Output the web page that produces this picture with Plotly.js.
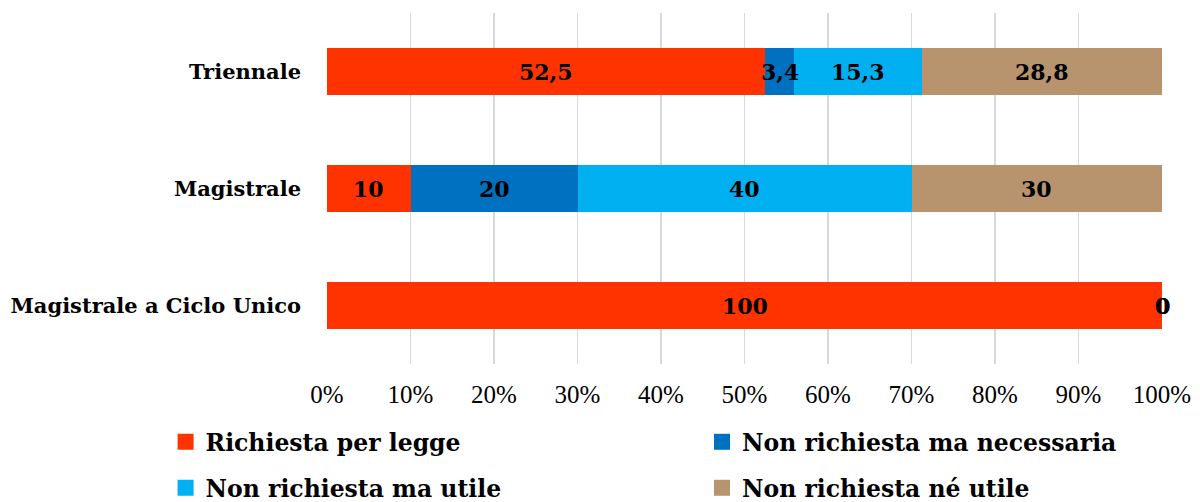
<!DOCTYPE html>
<html>
<head>
<meta charset="utf-8">
<script src="https://cdn.plot.ly/plotly-3.0.1.min.js"></script>
<style>html,body{margin:0;padding:0;background:#fff;}#chart{width:1200px;height:502px;}</style>
</head>
<body>
<div id="chart"></div>
<script>
const categories = ["Triennale", "Magistrale", "Magistrale a Ciclo Unico"];
const seriesNames = ["Richiesta per legge", "Non richiesta ma necessaria", "Non richiesta ma utile", "Non richiesta né utile"];
const richiestaPerLegge = [52.5, 10, 100];
const nonRichiestaNecessaria = [3.4, 20, 0];
const nonRichiestaUtile = [15.3, 40, 0];
const nonRichiestaNeUtile = [28.8, 30, 0];
const tickValues = [0, 10, 20, 30, 40, 50, 60, 70, 80, 90, 100];
const tickLabels = ["0%", "10%", "20%", "30%", "40%", "50%", "60%", "70%", "80%", "90%", "100%"];

const seriesValues = [richiestaPerLegge, nonRichiestaNecessaria, nonRichiestaUtile, nonRichiestaNeUtile];
const colors = ["#FF3300", "#0070C0", "#00B0F0", "#B7946E"];
const legendIds = ["legend", "legend2", "legend3", "legend4"];

const fmt = v => String(v).replace(".", ",");

const barTraces = seriesValues.map((vals, i) => ({
  type: "bar",
  orientation: "h",
  name: seriesNames[i],
  x: vals,
  y: categories,
  marker: {color: colors[i], line: {width: 0}},
  showlegend: false,
  hoverinfo: "none"
}));

// legend entries (square swatches)
const legendTraces = seriesNames.map((n, i) => ({
  type: "scatter", mode: "markers", name: n, x: [null], y: [null],
  marker: {symbol: "square", size: 16, color: colors[i], line: {width: 0}},
  legend: legendIds[i], showlegend: true, hoverinfo: "none"
}));

// data labels, placed at the centre of each stacked segment (drawn on top of all bars)
const labelFont = {family: "DejaVu Serif", size: 22, color: "#000", weight: "bold"};
const annotations = [];
categories.forEach((c, ci) => {
  let cum = 0;
  seriesValues.forEach(vals => {
    const v = vals[ci];
    annotations.push({x: cum + v / 2, y: c, xref: "x", yref: "y", text: fmt(v), showarrow: false,
      font: labelFont, xanchor: "center", yanchor: "middle"});
    cum += v;
  });
});

const legendFont = {family: "DejaVu Serif", size: 23.5, color: "#000", weight: "bold"};
const mkLegend = (x, yPx) => ({orientation: "h", xref: "container", yref: "container", x: x, xanchor: "left",
  y: 1 - yPx / 502, yanchor: "middle", font: legendFont, bgcolor: "rgba(0,0,0,0)", itemsizing: "trace"});

const layout = {
  width: 1200, height: 502,
  margin: {l: 327, r: 38, t: 13, b: 138, pad: 0},
  paper_bgcolor: "#fff", plot_bgcolor: "#fff",
  barmode: "stack",
  bargap: 0.6,
  showlegend: true,
  xaxis: {
    range: [0, 100], tickvals: tickValues, ticktext: tickLabels,
    showgrid: true, gridcolor: "#d9d9d9", gridwidth: 1.5,
    zeroline: false, showline: false, ticks: "",
    ticklabelstandoff: 13,
    tickfont: {family: "Liberation Serif", size: 25, color: "#000"},
    automargin: false,
    fixedrange: true
  },
  yaxis: {
    autorange: "reversed", type: "category", categoryarray: categories, categoryorder: "array",
    showgrid: false, zeroline: false, showline: false, ticks: "",
    ticklabelstandoff: 25,
    tickfont: {family: "DejaVu Serif", size: 21, color: "#000", weight: "bold"},
    automargin: false,
    fixedrange: true
  },
  legend: mkLegend(0.138, 442),
  legend2: mkLegend(0.585, 442),
  legend3: mkLegend(0.138, 488),
  legend4: mkLegend(0.585, 488),
  annotations: annotations
};

Plotly.newPlot("chart", barTraces.concat(legendTraces), layout, {displayModeBar: false, staticPlot: true});
</script>
</body>
</html>
